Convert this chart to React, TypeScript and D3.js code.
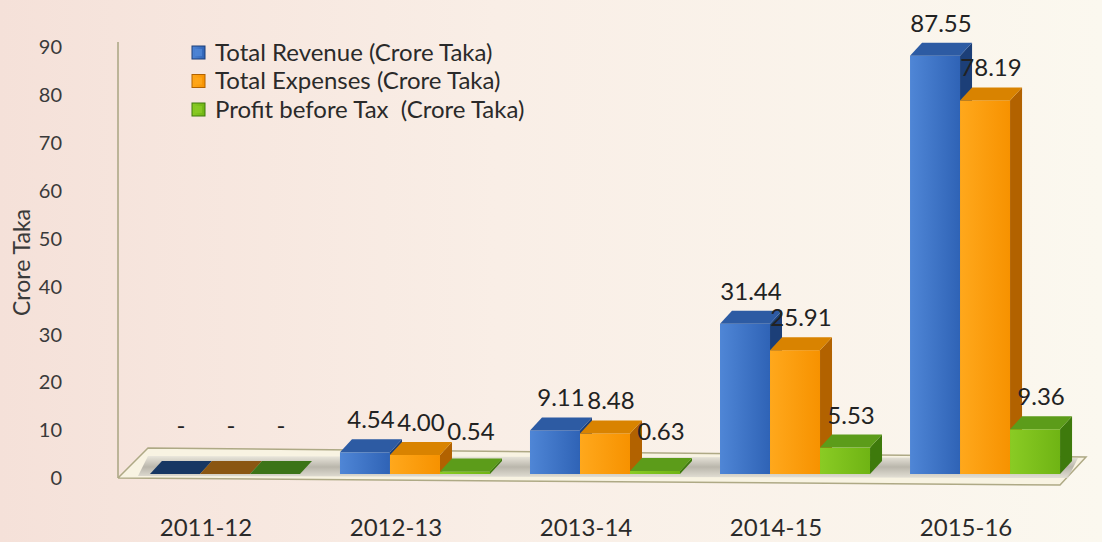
import * as d3 from 'd3';

const categories = ['2011-12', '2012-13', '2013-14', '2014-15', '2015-16'];
const seriesNames = [
  'Total Revenue (Crore Taka)',
  'Total Expenses (Crore Taka)',
  'Profit before Tax  (Crore Taka)',
];
const revenue = [0, 4.54, 9.11, 31.44, 87.55];
const expenses = [0, 4.0, 8.48, 25.91, 78.19];
const profit = [0, 0.54, 0.63, 5.53, 9.36];
const yTicks = [0, 10, 20, 30, 40, 50, 60, 70, 80, 90];

const palette = [
  { front: ['#4f86d6', '#2f63b6'], side: '#1c3f78', top: '#2d5ba3', flat: '#173763' },
  { front: ['#ffa81c', '#f79200'], side: '#b26200', top: '#d98300', flat: '#8a5612' },
  { front: ['#8acb24', '#6fb414'], side: '#3e7a0c', top: '#5c9c1a', flat: '#3c7418' },
];

const W = 1102;
const H = 542;
const DX = 12;
const DY = -13;
const FONT = 'Lato, "Open Sans", sans-serif';

export default function App() {
  const series = [revenue, expenses, profit];

  const x0 = d3.scaleBand().domain(categories).range([130, 1080]).paddingInner(0.2105).paddingOuter(0.105);
  const x1 = d3.scaleBand().domain(seriesNames).range([0, x0.bandwidth()]);
  const yBar = d3.scaleLinear().domain([0, 90]).range([474, 44]);
  const yAxis = d3.scaleLinear().domain([0, 90]).range([478, 47]);

  const axisX = 118;
  const base = yBar(0);
  const [r0, r1] = x0.range();
  const floorFront = d3.line()([
    [axisX, yAxis(0)],
    [r1 - 20, yAxis(0) + 7],
    [r1 + 6, yAxis(0) - 21],
    [r0 + 18, yAxis(0) - 30],
    [axisX, yAxis(0)],
  ]);
  const floorBand = d3.line()([
    [r0 + 8, base + 2],
    [r1 - 12, base + 4],
    [r1 - 2, base - 16],
    [r0 + 18, base - 18],
  ]) + 'Z';

  const bars = categories.flatMap((c, ci) =>
    series.map((vals, si) => {
      const v = vals[ci];
      const x = (x0(c) ?? 0) + (x1(seriesNames[si]) ?? 0);
      const w = x1.bandwidth();
      return { c, ci, si, v, x, w, top: yBar(v) };
    })
  );

  const poly = (pts: [number, number][]) => d3.line()(pts) + 'Z';

  return (
    <div style={{ position: 'fixed', left: 0, top: 0 }}>
      <svg width={W} height={H} style={{ display: 'block' }}>
        <defs>
          <linearGradient id="bg" x1="0" y1="0" x2="1" y2="0">
            <stop offset="0" stopColor="#f5e1d9" />
            <stop offset="0.45" stopColor="#f9eee6" />
            <stop offset="1" stopColor="#fbf8ef" />
          </linearGradient>
          <linearGradient id="band" x1="0" y1="0" x2="0" y2="1">
            <stop offset="0" stopColor="#e6e3da" />
            <stop offset="0.5" stopColor="#aaa79e" />
            <stop offset="1" stopColor="#dedbd2" />
          </linearGradient>
          {palette.map((p, i) => (
            <linearGradient key={i} id={`front${i}`} x1="0" y1="0" x2="1" y2="0">
              <stop offset="0" stopColor={p.front[0]} />
              <stop offset="1" stopColor={p.front[1]} />
            </linearGradient>
          ))}
        </defs>
        <rect width={W} height={H} fill="url(#bg)" />

        {/* value axis */}
        <line x1={axisX} x2={axisX} y1={yAxis(90) - 5} y2={yAxis(0)} stroke="#a9a482" strokeWidth={1.5} />
        {yTicks.map((t) => (
          <text key={t} x={62} y={yAxis(t)} dy="0.36em" textAnchor="end" fontFamily={FONT} fontSize={20} fill="#3a3a3a">
            {t}
          </text>
        ))}
        <text
          transform={`translate(30,${(yAxis(0) + yAxis(90)) / 2}) rotate(-90)`}
          textAnchor="middle"
          fontFamily={FONT}
          fontSize={23}
          fill="#3a3a3a"
        >
          Crore Taka
        </text>

        {/* floor */}
        <path d={floorFront ?? ''} fill="#f8f3e2" stroke="#aea985" strokeWidth={1.5} />
        <path d={floorBand} fill="url(#band)" opacity={0.8} />

        {/* bars */}
        {bars.map((b) => {
          const p = palette[b.si];
          const right = b.x + b.w;
          return (
            <g key={`${b.c}-${b.si}`}>
              {b.v > 0 && (
                <>
                  <rect x={b.x} y={b.top} width={b.w} height={base - b.top} fill={`url(#front${b.si})`} />
                  <path
                    d={poly([
                      [right, b.top],
                      [right + DX, b.top + DY],
                      [right + DX, base + DY],
                      [right, base],
                    ])}
                    fill={p.side}
                  />
                </>
              )}
              <path
                d={poly([
                  [b.x, b.top],
                  [b.x + DX, b.top + DY],
                  [right + DX, b.top + DY],
                  [right, b.top],
                ])}
                fill={b.v > 0 ? p.top : p.flat}
              />
            </g>
          );
        })}

        {/* value labels */}
        {bars.map((b) => (
          <text
            key={`l-${b.c}-${b.si}`}
            x={b.x + b.w / 2 + 6}
            y={b.v > 0 ? Math.min(b.top - 24, 440) : 434}
            textAnchor="middle"
            fontFamily={FONT}
            fontSize={24}
            fill="#222"
          >
            {b.v > 0 ? b.v.toFixed(2) : '-'}
          </text>
        ))}

        {/* category labels */}
        {categories.map((c) => (
          <text
            key={c}
            x={(x0(c) ?? 0) + x0.bandwidth() / 2 - 19}
            y={527}
            dy="0.36em"
            textAnchor="middle"
            fontFamily={FONT}
            fontSize={24}
            fill="#2a2a2a"
          >
            {c}
          </text>
        ))}

        {/* legend */}
        {seriesNames.map((s, i) => (
          <g key={s} transform={`translate(192,${52 + i * 28.5})`}>
            <rect x={0} y={-6} width={13} height={13} fill={`url(#front${i})`} stroke={palette[i].side} strokeWidth={1} />
            <rect x={3} y={-3} width={7} height={7} fill={palette[i].front[0]} opacity={0.8} />
            <text x={23} y={0} dy="0.36em" fontFamily={FONT} fontSize={24} fill="#2a2a2a" style={{ whiteSpace: 'pre' }}>
              {s}
            </text>
          </g>
        ))}
      </svg>
    </div>
  );
}
